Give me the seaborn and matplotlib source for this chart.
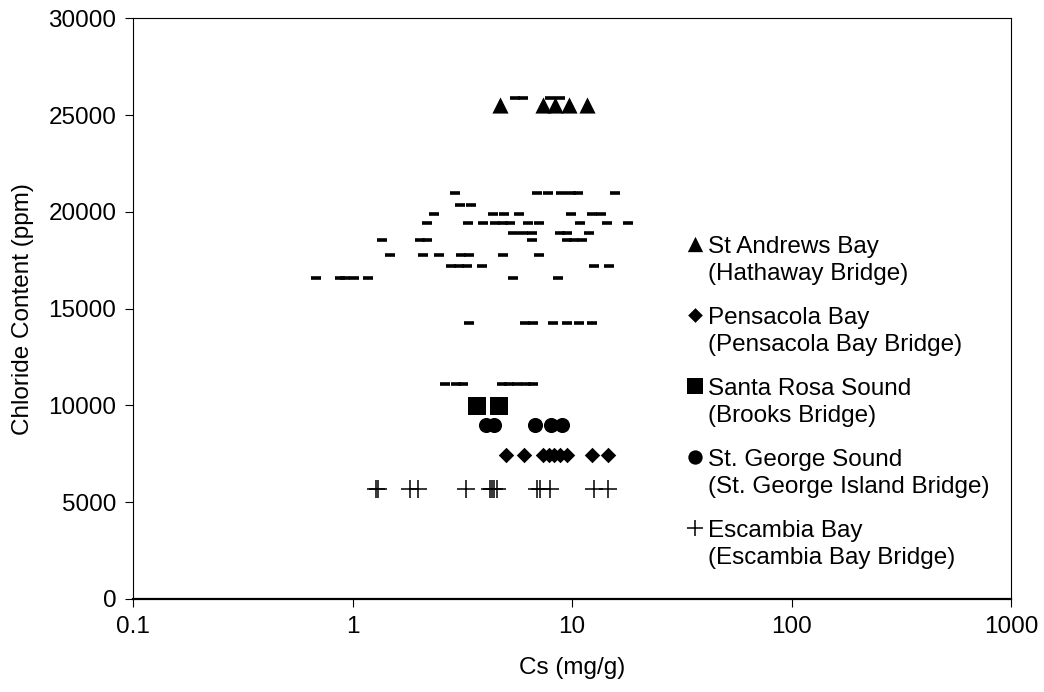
import numpy as np
import pandas as pd
import matplotlib
matplotlib.use("Agg")
import matplotlib.pyplot as plt
from matplotlib.ticker import NullLocator
import seaborn as sns

# Chloride content of the water (ppm) and measured Cs (mg/g) per site
st_andrews_cl = 25500
st_andrews_cs = [4.70, 7.38, 8.37, 9.69, 11.70]

pensacola_cl = 7450
pensacola_cs = [4.99, 6.05, 7.40, 7.86, 8.28, 8.82, 9.52, 12.29, 14.64]

santa_rosa_cl = 9950
santa_rosa_cs = [3.69, 4.65]

st_george_cl = 9000
st_george_cs = [4.06, 4.41, 6.78, 8.02, 9.01]

escambia_cl = 5700
escambia_cs = [1.28, 1.31, 1.82, 1.99, 3.29, 4.23, 4.32, 4.41, 4.54,
               6.91, 7.15, 7.94, 12.63, 14.64]

# other (unlabelled) sites, one list of Cs values per chloride level
other_cl = [25900, 20950, 20350, 19900, 19400, 18900, 18550,
            17750, 17200, 16600, 14250, 11100]
other_cs = [
    [5.5, 5.95, 7.94, 8.82],
    [2.92, 6.91, 7.80, 8.91, 9.87, 10.68, 15.65],
    [3.09, 3.46],
    [2.35, 4.38, 4.90, 5.74, 9.87, 12.29, 13.52],
    [2.19, 3.37, 3.94, 4.46, 4.83, 5.22, 6.32, 7.08, 10.87, 14.39, 18.05],
    [5.40, 6.00, 6.55, 8.82, 9.52, 11.99],
    [1.36, 2.03, 2.18, 6.59, 9.46, 10.24, 11.10],
    [1.48, 2.09, 2.48, 3.11, 3.41, 4.86, 7.10],
    [2.81, 3.06, 3.31, 3.89, 12.6, 14.7],
    [0.68, 0.88, 0.92, 1.02, 1.17, 5.40, 8.66],
    [3.38, 6.11, 6.66, 8.17, 9.52, 10.8, 12.29],
    [2.63, 2.95, 3.19, 4.79, 5.17, 5.62, 6.17, 6.64],
]

sns.set_style("ticks")
plt.rcParams["font.family"] = ["Liberation Sans", "DejaVu Sans"]
plt.rcParams["font.size"] = 17.5
plt.rcParams["text.color"] = "black"
plt.rcParams["axes.labelcolor"] = "black"
plt.rcParams["xtick.color"] = "black"
plt.rcParams["ytick.color"] = "black"

fig, ax = plt.subplots(figsize=(10.44, 6.92), dpi=100)
fig.subplots_adjust(left=0.1274, right=0.9685, top=0.9735, bottom=0.1345)

other = pd.DataFrame({
    "cs": [v for row in other_cs for v in row],
    "cl": [c for c, row in zip(other_cl, other_cs) for _ in row],
})
sns.scatterplot(data=other, x="cs", y="cl", marker="_", s=45, color="black",
                linewidth=2.6, legend=False, ax=ax, zorder=2)

series = [
    ("St Andrews Bay\n(Hathaway Bridge)", st_andrews_cs, st_andrews_cl, "^", 135),
    ("Pensacola Bay\n(Pensacola Bay Bridge)", pensacola_cs, pensacola_cl, "D", 62),
    ("Santa Rosa Sound\n(Brooks Bridge)", santa_rosa_cs, santa_rosa_cl, "s", 165),
    ("St. George Sound\n(St. George Island Bridge)", st_george_cs, st_george_cl, "o", 118),
]
for label, cs, cl, mk, size in series:
    sns.scatterplot(x=cs, y=[cl] * len(cs), marker=mk, s=size, color="black",
                    linewidth=0, label=label, ax=ax, zorder=3)

sns.scatterplot(x=escambia_cs, y=[escambia_cl] * len(escambia_cs), marker="+",
                s=150, color="black", linewidth=1.1,
                label="Escambia Bay\n(Escambia Bay Bridge)", ax=ax, zorder=3)

ax.set_xscale("log")
ax.set_xlim(0.1, 1000)
ax.set_ylim(0, 30000)
ax.set_xticks([0.1, 1, 10, 100, 1000])
ax.set_xticklabels(["0.1", "1", "10", "100", "1000"])
ax.xaxis.set_minor_locator(NullLocator())
ax.set_yticks(np.arange(0, 30001, 5000))
ax.set_xlabel("Cs (mg/g)", labelpad=14)
ax.set_ylabel("Chloride Content (ppm)", labelpad=10)

for side in ["top", "right", "left"]:
    ax.spines[side].set_linewidth(0.8)
    ax.spines[side].set_color("black")
ax.spines["bottom"].set_linewidth(1.6)
ax.spines["bottom"].set_color("black")
ax.tick_params(axis="both", direction="out", length=6, width=0.8,
               color="black", labelcolor="black", labelsize=17.5, pad=6)

leg = ax.legend(loc="upper left", bbox_to_anchor=(0.649, 0.673),
                bbox_transform=fig.transFigure, frameon=False,
                handlelength=0.6, handletextpad=0.25, labelspacing=0.9,
                scatteryoffsets=[1.45], markerscale=0.95, borderaxespad=0)
for t in leg.get_texts():
    t.set_linespacing(1.3)

fig.savefig("out.png", dpi=100)
